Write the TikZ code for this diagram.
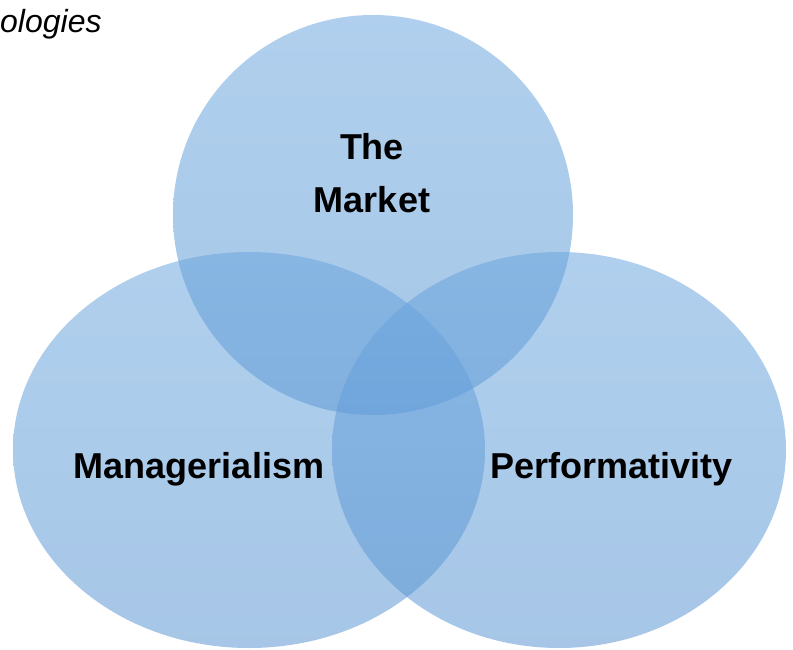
\documentclass[tikz,border=0pt]{standalone}
\usepackage{fontspec}
\setmainfont{Liberation Sans}
\begin{document}
\begin{tikzpicture}[x=1pt,y=-1pt,
  setbubble/.style={top color=bubbletop, bottom color=bubblebottom, opacity=0.53},
  setlabel/.style={font=\fontsize{36}{53}\selectfont\bfseries, inner sep=0pt, align=center}]
\definecolor{bubbletop}{RGB}{105,165,222}
\definecolor{bubblebottom}{RGB}{88,148,210}
\useasboundingbox (0,0) rectangle (793,650);
% three overlapping sets
\begin{scope}
  \clip (0,0) rectangle (793,650);
  \shade[setbubble] (373,215) ellipse [x radius=200, y radius=200];
  \shade[setbubble] (249,450) ellipse [x radius=236, y radius=198];
  \shade[setbubble] (559,450) ellipse [x radius=227, y radius=198];
\end{scope}
% caption fragment
\node[font=\fontsize{32}{38}\selectfont\itshape, inner sep=0pt, anchor=base west] (caption) at (0,33) {ologies};
% set labels
\node[setlabel, anchor=north] (market) at (372,133) {The\\Market};
\node[setlabel, anchor=base] (managerialism) at (199,478) {Managerialism};
\node[setlabel, anchor=base] (performativity) at (611.5,478) {Performativity};
\end{tikzpicture}
\end{document}
